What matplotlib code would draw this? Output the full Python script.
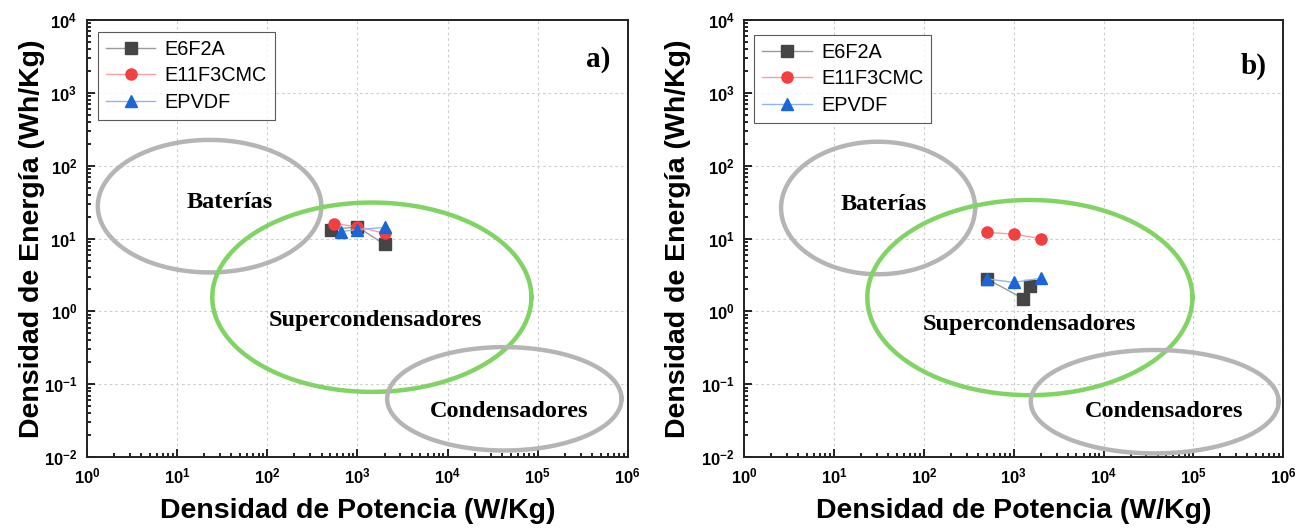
import numpy as np
import matplotlib.pyplot as plt
from matplotlib.ticker import LogLocator, NullFormatter

# --- Ragone data (power W/Kg, energy Wh/Kg) ---
series_names = ["E6F2A", "E11F3CMC", "EPVDF"]

a_power = {
    "E6F2A": [510, 1000, 2000],
    "E11F3CMC": [550, 1000, 2000],
    "EPVDF": [660, 1000, 2000],
}
a_energy = {
    "E6F2A": [13.3, 14.5, 8.3],
    "E11F3CMC": [16.0, 14.6, 11.8],
    "EPVDF": [12.5, 13.3, 14.2],
}

b_power = {
    "E6F2A": [500, 1280, 1500],
    "E11F3CMC": [500, 1000, 2000],
    "EPVDF": [500, 1000, 2000],
}
b_energy = {
    "E6F2A": [2.8, 1.5, 2.25],
    "E11F3CMC": [12.2, 11.5, 10.0],
    "EPVDF": [2.8, 2.5, 2.85],
}

# regions: (label, log10 x centre, log10 y centre, half width in decades, half height in decades)
a_regions = [
    ("Baterías", 1.36, 1.445, 1.24, 0.91),
    ("Supercondensadores", 3.16, 0.195, 1.77, 1.30),
    ("Condensadores", 4.63, -1.20, 1.30, 0.71),
]
b_regions = [
    ("Baterías", 1.49, 1.42, 1.08, 0.91),
    ("Supercondensadores", 3.18, 0.19, 1.81, 1.34),
    ("Condensadores", 4.57, -1.24, 1.38, 0.71),
]
# label positions (log10 x, log10 y)
a_label_pos = [(1.58, 1.49), (3.20, -0.12), (4.68, -1.37)]
b_label_pos = [(1.55, 1.47), (3.18, -0.18), (4.68, -1.37)]

region_colors = {"Baterías": "#b5b5b5", "Supercondensadores": "#80d463",
                 "Condensadores": "#b5b5b5"}

styles = {
    "E6F2A": dict(marker="s", color="#9a9a9a", mfc="#454545", mec="#454545"),
    "E11F3CMC": dict(marker="o", color="#f5a0a0", mfc="#f23f3f", mec="#f23f3f"),
    "EPVDF": dict(marker="^", color="#8fb4ee", mfc="#1a66d9", mec="#1a66d9"),
}

fig = plt.figure(figsize=(13.08, 5.29), dpi=100)
ax_a = fig.add_axes([0.0665, 0.136, 0.4135, 0.826])
ax_b = fig.add_axes([0.569, 0.136, 0.412, 0.826])

t = np.linspace(0, 2 * np.pi, 400)


def draw_panel(ax, power, energy, regions, label_pos, tag, tag_pos, leg_pos, ylab_x):
    ax.set_xscale("log")
    ax.set_yscale("log")
    ax.set_xlim(1, 1e6)
    ax.set_ylim(1e-2, 1e4)

    ax.grid(True, which="major", linestyle=(0, (2.5, 2.5)), color="#cfcfcf", linewidth=0.8)
    ax.set_axisbelow(True)

    for (name, cx, cy, hw, hh), (lx, ly) in zip(regions, label_pos):
        ax.plot(10 ** (cx + hw * np.cos(t)), 10 ** (cy + hh * np.sin(t)),
                color=region_colors[name], linewidth=3.2, zorder=2)
        ax.text(10 ** lx, 10 ** ly, name, family="Liberation Serif",
                fontweight="bold", fontsize=17.5, ha="center", va="center")

    for name in series_names:
        st = styles[name]
        ax.plot(power[name], energy[name], marker=st["marker"], color=st["color"],
                markerfacecolor=st["mfc"], markeredgecolor=st["mec"],
                markersize=8, linewidth=1.0, label=name, zorder=3)

    leg = ax.legend(loc="upper left", bbox_to_anchor=leg_pos,
                    prop={"family": "Liberation Sans", "size": 14.3},
                    frameon=True, fancybox=False, edgecolor="#303030",
                    handlelength=2.5, borderpad=0.4, labelspacing=0.38,
                    handletextpad=0.45, borderaxespad=0)
    leg.get_frame().set_linewidth(0.8)

    ax.text(tag_pos[0], tag_pos[1], tag, transform=ax.transAxes,
            family="Liberation Serif", fontweight="bold", fontsize=21,
            ha="center", va="center")

    ax.xaxis.set_major_locator(LogLocator(base=10, numticks=10))
    ax.yaxis.set_major_locator(LogLocator(base=10, numticks=10))
    ax.xaxis.set_minor_locator(LogLocator(base=10, subs=np.arange(2, 10), numticks=20))
    ax.yaxis.set_minor_locator(LogLocator(base=10, subs=np.arange(2, 10), numticks=20))
    ax.xaxis.set_minor_formatter(NullFormatter())
    ax.yaxis.set_minor_formatter(NullFormatter())
    ax.tick_params(which="both", direction="in", top=False, right=False, width=1.2)
    ax.tick_params(which="major", length=6, labelsize=12, pad=7)
    ax.tick_params(which="minor", length=3)
    for lbl in ax.get_xticklabels() + ax.get_yticklabels():
        lbl.set_fontweight("bold")
        lbl.set_family("Liberation Sans")

    for sp in ax.spines.values():
        sp.set_linewidth(1.4)
        sp.set_color("#222222")

    ax.set_xlabel("Densidad de Potencia (W/Kg)", family="Liberation Sans",
                  fontweight="bold", fontsize=20.5)
    ax.set_ylabel("Densidad de Energía (Wh/Kg)", family="Liberation Sans",
                  fontweight="bold", fontsize=20.5)
    ax.xaxis.set_label_coords(0.5, -0.093)
    ax.yaxis.set_label_coords(ylab_x, 0.5)


draw_panel(ax_a, a_power, a_energy, a_regions, a_label_pos, "a)", (0.945, 0.91),
           (0.02, 0.973), -0.078)
draw_panel(ax_b, b_power, b_energy, b_regions, b_label_pos, "b)", (0.945, 0.895),
           (0.019, 0.966), -0.098)

fig.savefig("out.png", dpi=100)
